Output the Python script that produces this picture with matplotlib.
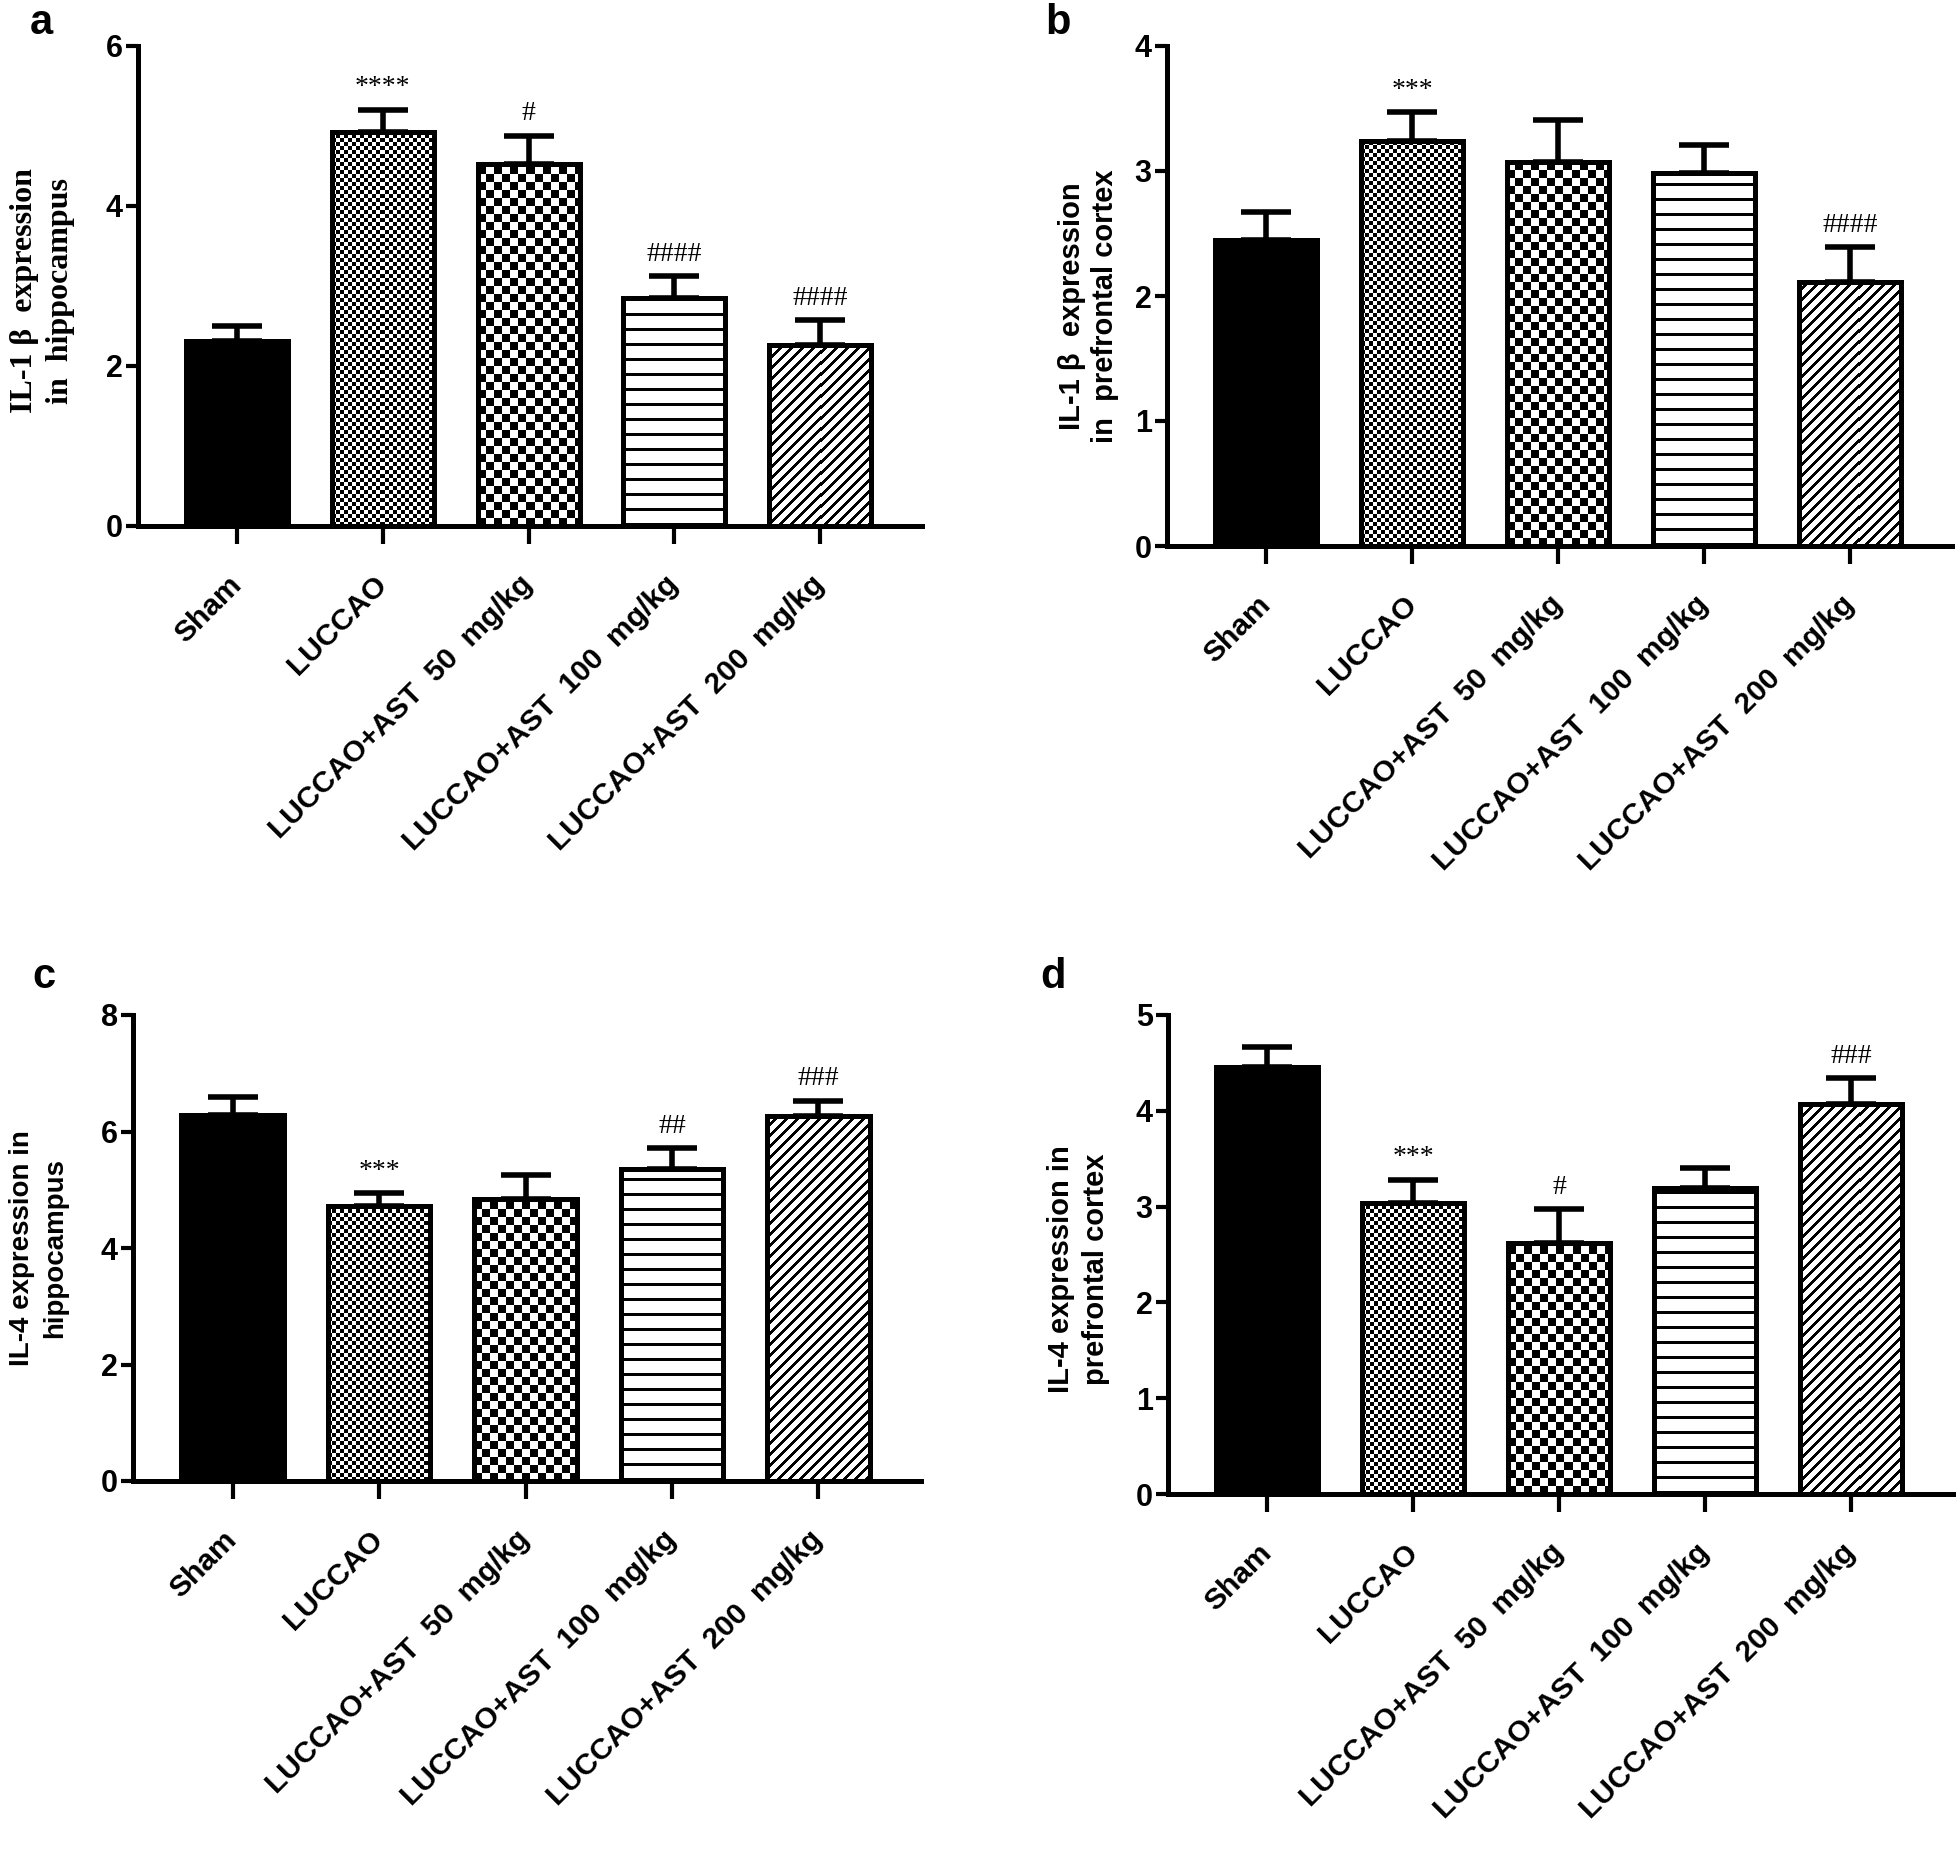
import numpy as np
import matplotlib
matplotlib.use('Agg')
import matplotlib.pyplot as plt

W, H = 1959, 1854
DPI = 100

groups = ['Sham', 'LUCCAO', 'LUCCAO+AST  50  mg/kg',
          'LUCCAO+AST  100  mg/kg', 'LUCCAO+AST  200  mg/kg']

# a: IL-1 beta, hippocampus
il1b_hip_mean = [2.31, 4.92, 4.52, 2.85, 2.26]
il1b_hip_sem = [0.19, 0.28, 0.36, 0.27, 0.31]
il1b_hip_sig = ['', '****', '#', '####', '####']

# b: IL-1 beta, prefrontal cortex
il1b_pfc_mean = [2.45, 3.24, 3.07, 2.98, 2.11]
il1b_pfc_sem = [0.22, 0.23, 0.34, 0.23, 0.28]
il1b_pfc_sig = ['', '***', '', '', '####']

# c: IL-4, hippocampus
il4_hip_mean = [6.28, 4.72, 4.84, 5.35, 6.26]
il4_hip_sem = [0.32, 0.22, 0.42, 0.36, 0.26]
il4_hip_sig = ['', '***', '', '##', '###']

# d: IL-4, prefrontal cortex
il4_pfc_mean = [4.46, 3.04, 2.62, 3.19, 4.07]
il4_pfc_sem = [0.21, 0.24, 0.35, 0.21, 0.27]
il4_pfc_sig = ['', '***', '#', '', '###']

fills = ['solid', 'fine_checker', 'checker', 'hlines', 'diag']

SANS = ['Liberation Sans', 'DejaVu Sans']
NARROW = ['Liberation Sans Narrow', 'Liberation Sans', 'DejaVu Sans']
SERIF = ['Liberation Serif', 'DejaVu Serif']

XLO, XHI = -0.68, 4.70


def pattern(kind, ny, nx):
    """Black/white texture, 0 = black, 1 = white (origin lower)."""
    i, j = np.indices((ny, nx))
    if kind == 'fine_checker':
        return ((i // 4 + j // 4) % 2).astype(float)
    if kind == 'checker':
        return ((i // 8 + j // 8) % 2).astype(float)
    if kind == 'hlines':
        return 1.0 - ((i % 15) < 3)
    if kind == 'diag':
        return 1.0 - (((i - j) % 11) < 4)
    return np.ones((ny, nx))


def draw_panel(box, means, sems, sig, ymax, ystep, ylabel, label_pos,
               ylabel_font=SANS, ylabel_size=20, linespacing=1.35):
    x0, top, x1, zero = box
    ax = plt.gcf().add_axes([x0 / W, 1 - zero / H, (x1 - x0) / W, (zero - top) / H])
    ppx = (x1 - x0) / (XHI - XLO)
    ppy = (zero - top) / ymax
    x = np.arange(len(means))

    bars = ax.bar(x, means, width=0.70, facecolor='none', edgecolor='black',
                  linewidth=3.6, zorder=3)
    for b, kind in zip(bars, fills):
        if kind == 'solid':
            b.set_facecolor('black')
            continue
        bx, bw, bh = b.get_x(), b.get_width(), b.get_height()
        nx = int(np.ceil(bw * ppx))
        ny = int(np.ceil(bh * ppy))
        im = ax.imshow(pattern(kind, ny, nx), cmap='gray', vmin=0, vmax=1,
                       extent=(bx, bx + nx / ppx, 0, ny / ppy), origin='lower',
                       interpolation='nearest', aspect='auto', zorder=2)
        im.set_clip_path(b)

    ax.errorbar(x, means, yerr=[np.zeros(len(sems)), sems], fmt='none',
                ecolor='black', elinewidth=4, capsize=18, capthick=4, zorder=4)

    for xi, m, s, t in zip(x, means, sems, sig):
        if t:
            ax.annotate(t, (xi, m + s), xytext=(0, 7), textcoords='offset points',
                        ha='center', va='bottom', fontsize=20, family=SERIF)

    ax.set_xlim(XLO, XHI)
    ax.set_ylim(0, ymax)
    ticks = np.arange(0, ymax + 0.01, ystep)
    ax.set_yticks(ticks)
    ax.set_yticklabels([f'{v:g}' for v in ticks],
                       fontsize=22, fontweight='bold', family=NARROW)
    ax.set_xticks(x)
    ax.set_xticklabels(groups, rotation=45, ha='right', va='center',
                       rotation_mode='anchor', fontsize=21.5, fontweight='bold',
                       family=SANS)

    for side in ['top', 'right']:
        ax.spines[side].set_visible(False)
    for side in ['left', 'bottom']:
        ax.spines[side].set_linewidth(3.6)
    ax.tick_params(axis='y', length=9, width=3, pad=2)
    ax.tick_params(axis='x', length=13, width=3, pad=26)

    ax.text(label_pos[0], label_pos[1], ylabel, transform=ax.transAxes,
            rotation=90, ha='center', va='center', ma='center',
            fontsize=ylabel_size, fontweight='bold', family=ylabel_font,
            linespacing=linespacing)
    return ax


fig = plt.figure(figsize=(W / DPI, H / DPI), dpi=DPI)

draw_panel((138, 46, 922, 526), il1b_hip_mean, il1b_hip_sem, il1b_hip_sig,
           6, 2, 'IL-1 β  expression\nin  hippocampus', (-0.122, 0.49),
           ylabel_font=SERIF, ylabel_size=23, linespacing=1.3)
draw_panel((1167, 46, 1952, 546), il1b_pfc_mean, il1b_pfc_sem, il1b_pfc_sig,
           4, 1, 'IL-1 β  expression\nin  prefrontal cortex', (-0.100, 0.48),
           ylabel_size=21, linespacing=1.2)
draw_panel((133, 1015, 921, 1481), il4_hip_mean, il4_hip_sem, il4_hip_sig,
           8, 2, 'IL-4 expression in\nhippocampus', (-0.120, 0.5),
           ylabel_size=20, linespacing=1.35)
draw_panel((1168, 1015, 1953, 1494), il4_pfc_mean, il4_pfc_sem, il4_pfc_sig,
           5, 1, 'IL-4 expression in\nprefrontal cortex', (-0.114, 0.47),
           ylabel_size=21, linespacing=1.3)

for letter, px, py in [('a', 30, 34), ('b', 1045, 34), ('c', 32, 988), ('d', 1040, 988)]:
    fig.text(px / W, 1 - py / H, letter, fontsize=30, fontweight='bold',
             family=SANS, va='baseline')

fig.savefig('out.png', dpi=DPI, facecolor='white')
